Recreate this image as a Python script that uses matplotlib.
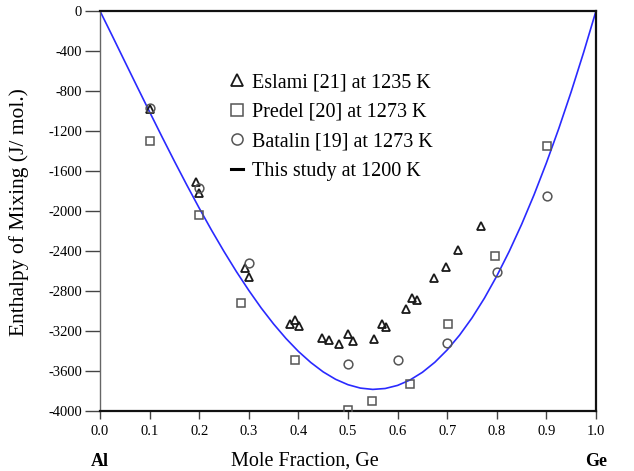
import matplotlib
matplotlib.use("Agg")
import matplotlib.pyplot as plt
from matplotlib.lines import Line2D

plt.rcParams['font.family'] = ['Liberation Serif', 'DejaVu Serif']
plt.rcParams['axes.unicode_minus'] = False

# Eslami [21] at 1235 K
eslami_x = [0.100, 0.193, 0.200, 0.292, 0.301, 0.384, 0.393, 0.401, 0.447, 0.462,
            0.481, 0.500, 0.510, 0.552, 0.568, 0.577, 0.616, 0.630, 0.639, 0.673,
            0.697, 0.722, 0.768]
eslami_h = [-980, -1710, -1815, -2565, -2660, -3130, -3085, -3150, -3265, -3285,
            -3325, -3225, -3300, -3280, -3125, -3155, -2975, -2865, -2890, -2670,
            -2555, -2390, -2145]

# Predel [20] at 1273 K
predel_x = [0.101, 0.200, 0.284, 0.393, 0.500, 0.549, 0.625, 0.701, 0.796, 0.902]
predel_h = [-1295, -2040, -2920, -3490, -3990, -3895, -3730, -3130, -2445, -1345]

# Batalin [19] at 1273 K
batalin_x = [0.100, 0.200, 0.301, 0.500, 0.601, 0.700, 0.801, 0.901]
batalin_h = [-965, -1765, -2520, -3530, -3490, -3320, -2605, -1850]

# This study at 1200 K (curve)
curve_x = [0.000, 0.025, 0.050, 0.075, 0.100, 0.125, 0.150, 0.175, 0.200, 0.225,
           0.250, 0.275, 0.300, 0.325, 0.350, 0.375, 0.400, 0.425, 0.450, 0.475,
           0.500, 0.525, 0.550, 0.575, 0.600, 0.625, 0.650, 0.675, 0.700, 0.725,
           0.750, 0.775, 0.800, 0.825, 0.850, 0.875, 0.900, 0.925, 0.950, 0.975,
           1.000]
curve_h = [0, -251, -505, -758, -1009, -1258, -1502, -1740, -1971, -2193,
           -2405, -2606, -2794, -2970, -3130, -3275, -3404, -3515, -3609, -3683,
           -3737, -3771, -3784, -3775, -3744, -3690, -3613, -3513, -3389, -3241,
           -3069, -2872, -2650, -2404, -2134, -1839, -1519, -1175, -807, -415,
           0]

y_ticks = list(range(0, -4001, -400))
x_ticks = [i / 10 for i in range(11)]

fig = plt.figure(figsize=(6.34, 4.71), dpi=100)
ax = fig.add_axes([100/634, 1 - 411/471, 496/634, 400/471])

ax.plot(curve_x, curve_h, color="#2a2aff", lw=1.2, zorder=2)
ax.plot(eslami_x, eslami_h, ls="none", marker="^", ms=6.3, mfc="none",
        mec="#1a1a1a", mew=1.3, zorder=3)
ax.plot(predel_x, predel_h, ls="none", marker="s", ms=6.3, mfc="none",
        mec="#555555", mew=1.1, zorder=3)
ax.plot(batalin_x, batalin_h, ls="none", marker="o", ms=6.3, mfc="none",
        mec="#555555", mew=1.1, zorder=3)

ax.set_xlim(0, 1)
ax.set_ylim(-4000, 0)
ax.set_xticks(x_ticks)
ax.set_xticklabels([f"{v:.1f}" for v in x_ticks])
ax.set_yticks(y_ticks)
ax.set_yticklabels([str(v) for v in y_ticks])
ax.tick_params(axis='y', direction='out', length=11, width=1, pad=2,
               labelsize=10.5, color="#444444")
ax.tick_params(axis='x', direction='out', length=6, width=1, pad=4,
               labelsize=10.5, color="#444444")
for side in ["top", "right", "bottom"]:
    ax.spines[side].set_color("#111111")
    ax.spines[side].set_linewidth(1.6)
ax.spines["left"].set_color("#666666")
ax.spines["left"].set_linewidth(1.0)

fig.text(19/634, 1 - 212/471, "Enthalpy of Mixing (J/ mol.)", rotation=90,
         ha="center", va="center", fontsize=15.5)
ax.text(0.413, -0.125, "Mole Fraction, Ge", transform=ax.transAxes,
        ha="center", va="center", fontsize=14.5)
ax.text(0.0, -0.125, "Al", transform=ax.transAxes, ha="center", va="center",
        fontsize=13, fontweight="bold")
ax.text(1.0, -0.125, "Ge", transform=ax.transAxes, ha="center", va="center",
        fontsize=13, fontweight="bold")

handles = [
    Line2D([], [], ls="none", marker="^", ms=8, mfc="none", mec="#1a1a1a", mew=1.3),
    Line2D([], [], ls="none", marker="s", ms=8, mfc="none", mec="#555555", mew=1.1),
    Line2D([], [], ls="none", marker="o", ms=8, mfc="none", mec="#555555", mew=1.1),
    Line2D([], [], color="black", lw=2.2),
]
labels = ["Eslami [21] at 1235 K", "Predel [20] at 1273 K",
          "Batalin [19] at 1273 K", "This study at 1200 K"]
ax.legend(handles, labels, loc="upper left", bbox_to_anchor=(0.248, 0.865),
          frameon=False, fontsize=14.5, handlelength=0.6, handletextpad=0.45,
          labelspacing=0.52, borderaxespad=0)

fig.savefig("out.png", dpi=100)
